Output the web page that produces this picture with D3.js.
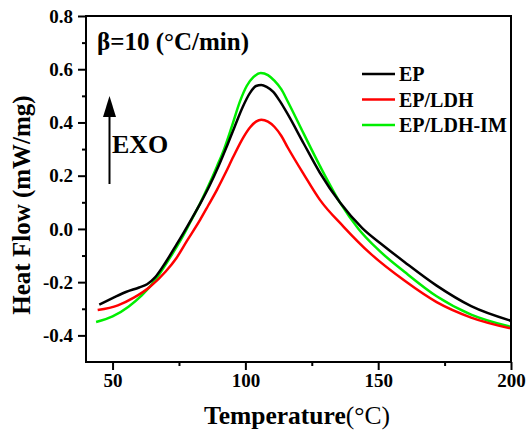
<!DOCTYPE html>
<html>
<head>
<meta charset="utf-8">
<script src="https://cdn.jsdelivr.net/npm/d3@7"></script>
<style>
  html, body { margin: 0; padding: 0; background: #fff; }
  svg { display: block; }
  text { font-family: "Liberation Serif", "Times New Roman", serif; fill: #000; }
</style>
</head>
<body>
<svg id="chart" width="528" height="434"></svg>
<script>
// DSC heat flow curves, heating rate 10 °C/min
const temperatureEP = [45.0, 50, 55, 60, 63, 66, 70, 74, 77, 80, 83, 86.5, 90, 93, 96, 99, 101.8, 104, 106, 108, 110.5, 113, 116, 122, 128, 135.7, 144, 152, 160, 172, 185, 200];
const heatFlowEP    = [-0.284, -0.260, -0.237, -0.220, -0.208, -0.182, -0.125, -0.060, -0.010, 0.042, 0.095, 0.162, 0.238, 0.310, 0.385, 0.458, 0.512, 0.537, 0.541, 0.534, 0.515, 0.480, 0.430, 0.320, 0.212, 0.098, 0.003, -0.063, -0.125, -0.213, -0.290, -0.345];

const temperatureLDH = [44.4, 52, 58, 64, 70, 74, 78, 83, 86, 89.3, 92.5, 95.5, 99.3, 101.8, 104, 106, 108.5, 111, 113.5, 116, 122, 128, 137, 147, 160, 172, 185, 200];
const heatFlowLDH    = [-0.305, -0.287, -0.258, -0.218, -0.160, -0.110, -0.045, 0.035, 0.088, 0.147, 0.210, 0.272, 0.345, 0.382, 0.403, 0.410, 0.403, 0.383, 0.350, 0.305, 0.205, 0.110, 0.008, -0.092, -0.195, -0.275, -0.333, -0.374];

const temperatureIM = [43.8, 50, 56, 61, 66, 71, 76, 79.5, 83, 86, 89.3, 92, 95, 98, 100.5, 103, 105.8, 108.5, 111, 113.5, 116, 122, 128, 135.7, 142.6, 150, 160, 172, 185, 200];
const heatFlowIM    = [-0.350, -0.329, -0.292, -0.250, -0.193, -0.118, -0.036, 0.030, 0.097, 0.160, 0.235, 0.300, 0.388, 0.480, 0.537, 0.570, 0.586, 0.578, 0.556, 0.525, 0.478, 0.357, 0.238, 0.098, 0.000, -0.078, -0.162, -0.253, -0.322, -0.368];

const seriesNames  = ["EP", "EP/LDH", "EP/LDH-IM"];
const seriesColors = ["#000000", "#ff0000", "#00ee00"];

const xTicks      = [50, 100, 150, 200];
const xMinorTicks = [75, 125, 175];
const yTicks      = [-0.4, -0.2, 0.0, 0.2, 0.4, 0.6, 0.8];
const yMinorTicks = [-0.3, -0.1, 0.1, 0.3, 0.5, 0.7];

const series = [
  { name: seriesNames[0], color: seriesColors[0], t: temperatureEP,  v: heatFlowEP },
  { name: seriesNames[1], color: seriesColors[1], t: temperatureLDH, v: heatFlowLDH },
  { name: seriesNames[2], color: seriesColors[2], t: temperatureIM,  v: heatFlowIM }
];

const svg = d3.select("#chart");
const margin = { left: 86, top: 16, right: 17, bottom: 72 };
const W = 528, H = 434;
const x = d3.scaleLinear().domain([40, 200]).range([margin.left, W - margin.right]);
const y = d3.scaleLinear().domain([-0.5, 0.8]).range([H - margin.bottom, margin.top]);

const font = "'Liberation Serif', 'Times New Roman', serif";

// curves
const line = d3.line()
  .x(d => x(d[0]))
  .y(d => y(d[1]))
  .curve(d3.curveMonotoneX);

// draw order: green, red, black on top
[series[2], series[1], series[0]].forEach(s => {
  const pts = s.t.map((t, i) => [t, s.v[i]]);
  svg.append("path")
    .attr("d", line(pts))
    .attr("fill", "none")
    .attr("stroke", s.color)
    .attr("stroke-width", 2.5)
    .attr("stroke-linejoin", "round");
});

// axes
const xAxis = svg.append("g")
  .attr("transform", `translate(0,${y(-0.5)})`)
  .call(d3.axisBottom(x).tickValues(xTicks).tickSize(8).tickSizeOuter(0).tickPadding(4).tickFormat(d3.format("d")));
const xMinor = svg.append("g")
  .attr("transform", `translate(0,${y(-0.5)})`)
  .call(d3.axisBottom(x).tickValues(xMinorTicks).tickSize(4).tickSizeOuter(0).tickFormat(""));
const yAxis = svg.append("g")
  .attr("transform", `translate(${x(40)},0)`)
  .call(d3.axisLeft(y).tickValues(yTicks).tickSize(8).tickSizeOuter(0).tickPadding(5).tickFormat(d3.format(".1f")));
const yMinor = svg.append("g")
  .attr("transform", `translate(${x(40)},0)`)
  .call(d3.axisLeft(y).tickValues(yMinorTicks).tickSize(4).tickSizeOuter(0).tickFormat(""));

[xAxis, xMinor, yAxis, yMinor].forEach(g => {
  g.select(".domain").remove();
  g.selectAll("line").attr("stroke", "#000").attr("stroke-width", 2);
  g.selectAll("text")
    .attr("font-family", font)
    .attr("font-weight", "bold")
    .attr("font-size", 19)
    .attr("fill", "#000");
});
yAxis.selectAll("text").text(d => d3.format(".1f")(d).replace("−", "-"));

// frame
svg.append("rect")
  .attr("x", x(40)).attr("y", y(0.8))
  .attr("width", x(200) - x(40)).attr("height", y(-0.5) - y(0.8))
  .attr("fill", "none").attr("stroke", "#000").attr("stroke-width", 2);

// axis titles
const xt = svg.append("text")
  .attr("x", 297).attr("y", 424)
  .attr("text-anchor", "middle")
  .attr("font-size", 25.5);
xt.append("tspan").attr("font-weight", "bold").text("Temperature");
xt.append("tspan").attr("font-weight", "normal").text("(°C)");

svg.append("text")
  .attr("transform", `translate(30,205) rotate(-90)`)
  .attr("text-anchor", "middle")
  .attr("font-weight", "bold")
  .attr("font-size", 25)
  .text("Heat Flow (mW/mg)");

// heating-rate note
svg.append("text")
  .attr("x", 97).attr("y", 50)
  .attr("font-weight", "bold")
  .attr("font-size", 25)
  .text("β=10 (°C/min)");

// exothermic direction arrow
svg.append("line")
  .attr("x1", 109.5).attr("y1", 184).attr("x2", 109.5).attr("y2", 112)
  .attr("stroke", "#000").attr("stroke-width", 2);
svg.append("path")
  .attr("d", "M109.5,96 L103,117 L116,117 Z")
  .attr("fill", "#000");
svg.append("text")
  .attr("x", 112).attr("y", 153)
  .attr("font-weight", "bold")
  .attr("font-size", 26)
  .text("EXO");

// legend
const legend = svg.append("g");
series.forEach((s, i) => {
  const ly = 74 + i * 25.5;
  legend.append("line")
    .attr("x1", 362).attr("x2", 395).attr("y1", ly).attr("y2", ly)
    .attr("stroke", s.color).attr("stroke-width", 2.5);
  legend.append("text")
    .attr("x", 399).attr("y", ly + 7)
    .attr("font-weight", "bold")
    .attr("font-size", 20)
    .text(s.name);
});
</script>
</body>
</html>
